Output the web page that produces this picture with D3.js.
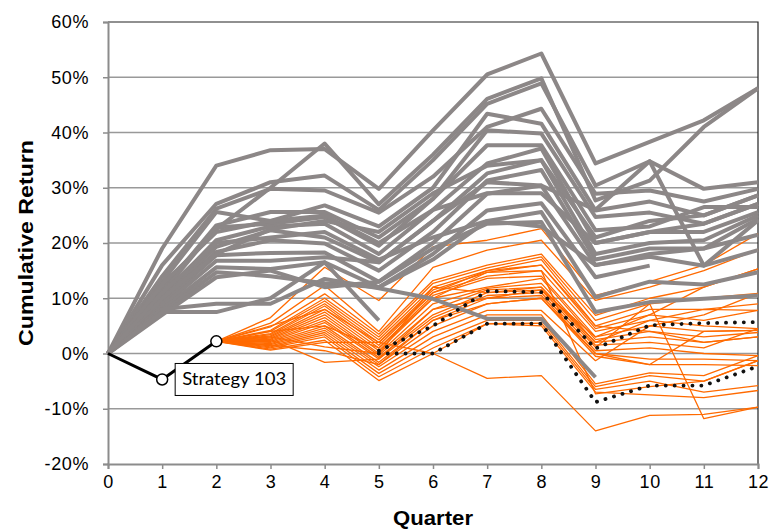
<!DOCTYPE html>
<html>
<head>
<meta charset="utf-8">
<script src="https://cdn.jsdelivr.net/npm/d3@7"></script>
<style>
  body { margin: 0; background: #fff; }
  text { font-family: "Liberation Sans", Arial, sans-serif; }
</style>
</head>
<body>
<div id="chart-area"></div>
<script>
// quarters on the x axis
const quarters = [0, 1, 2, 3, 4, 5, 6, 7, 8, 9, 10, 11, 12]
const yTicks = [-0.2, -0.1, 0, 0.1, 0.2, 0.3, 0.4, 0.5, 0.6]

// gray strategies, values in %, from quarter 0 (some stop early)
const grayRuns = [
    [0, 19, 34, 36.8, 37, 29.8, 40.4, 50.5, 54.3, 34.4, 38.3, 42.2, 48],
    [0, 12, 22.5, 30, 38, 27, 36, 46.1, 49.8, 27.7, 31.3, 41, 48],
    [0, 16, 27.1, 31, 32.2, 26, 35, 45.2, 48.9, 30.4, 34.8, 29.8, 31],
    [0, 14, 26.2, 29.8, 29.5, 25.5, 32, 41, 44.3, 28.9, 29.5, 27.5, 29.8],
    [0, 13, 25.6, 24, 26.8, 23, 30, 43.4, 41.6, 25.9, 27.5, 25, 28.6],
    [0, 11.5, 23.2, 25.6, 25.6, 21, 28, 40.4, 39.8, 24.7, 25.5, 23.5, 27.1],
    [0, 11, 22.8, 23.5, 24.7, 19.5, 28, 37.7, 37.7, 22.3, 23, 26.5, 26.5],
    [0, 10.5, 20.5, 23, 23.5, 18, 26, 34.4, 37.1, 20, 22, 22, 25.6],
    [0, 10, 19.3, 22.3, 21, 16.5, 24, 32.6, 35, 18, 20, 20.5, 25],
    [0, 9.5, 18.4, 20.5, 19.9, 15, 22, 31.3, 33.2, 17, 19, 19, 24.4],
    [0, 9, 17.8, 18.2, 18.3, 13, 20, 28.9, 30.4, 16, 17.5, 15.9, 24.1],
    [0, 8.5, 16.8, 16.8, 17.4, 16.5, 24, 31, 30.4, 26, 34.8, 15.9, 18.7],
    [0, 8, 15.6, 15.3, 16.5, 12, 18, 25.9, 27.2, 13.8, 15.9],
    [0, 7.5, 14.7, 14, 12.7, 12, 17, 24, 25.6, 10.2, 13, 12.5, 14.7],
    [0, 7, 13.8, 15, 12, 13, 19, 23.5, 23.8, 7.5, 9.3, 9.9, 10.5],
    [0, 8, 9, 9, 13.5, 11.8, 9.9, 6.3, 6.3, -4.3],
    [0, 7.5, 7.5, 10, 16.5, 6],
    [0, 12.5, 22, 24, 25, 20, 26, 29, 29, 20, 22, 23.5, 27.1],
    [0, 10, 18, 22.5, 24, 22, 29, 34, 35, 21, 24, 25, 28.6],
    [0, 11, 20, 21, 22, 17, 21, 24, 23, 16, 18, 19, 21.5]
]

// Strategy 103, quarters 0..2
const strat103 = [0, -4.7, 2.2]

// orange continuations of Strategy 103, values in %, quarters 2..12
const orangeRuns = [
    [2.2, 6.5, 15.6, 9.6, 19.3, 20.5, 22.6, 10.5, 13, 16, 21.7],
    [2.2, 5.5, 12.3, 4, 15.6, 18.7, 20.5, 9.6, 12, 15, 18.8],
    [2.2, 4.8, 10.8, 3.5, 13.2, 16, 18, 6.9, 10, 12, 15.3],
    [2.2, 4.2, 10, 3, 12.7, 15.5, 17.5, 6, 9, 10, 10.9],
    [2.2, 4, 9.5, 2.5, 12, 15, 17, 5, 8, 8, 9],
    [2.2, 3.6, 9, 2, 11.5, 14.7, 16, 4.5, 7, 6, 7.8],
    [2.2, 3.4, 8.6, 1.5, 11, 14, 15, 4, 6, 5, 4.5],
    [2.2, 3.2, 8, 1, 10.5, 13.6, 14, 3, 5, 4, 4.2],
    [2.2, 3, 7.5, 0.5, 10, 12, 13.6, 2.5, 4, 3, 3.8],
    [2.2, 2.8, 7, 0, 9, 11.8, 12.7, 2, 3, 2, 3],
    [2.2, 2.6, 6.5, -0.3, 8, 11.5, 12, 1.5, 2, 1, 4.5],
    [2.2, 2.4, 6, -0.7, 7, 11, 11.5, 1.1, 9, -11.8, -9.7],
    [2.2, 2.2, 5.6, -1, 6.5, 10.5, 11, 0.5, 1, 0, -0.4],
    [2.2, 2, 5, -1.6, 6, 10, 10.5, 0, -1, -1, -1.3],
    [2.2, 1.8, 4.6, -2, 5, 9, 10, -0.5, -2, -2, -2.2],
    [2.2, 1.6, 4.2, -2.4, 4, 7.8, 7.8, -1.3, 5, 7, 10.9],
    [2.2, 1.4, 3.8, -3, 3, 7, 7, -5.5, -3.5, -4, -0.4],
    [2.2, 1.2, 3.4, -3.6, 2, 6, 6, -6, -4, -5, -1.3],
    [2.2, 1, 3, -4.2, 1, 5.4, 5.5, -6.5, -5, -7, -5.8],
    [2.2, 0.8, 2.4, -4.9, 0, 5.4, 5, -7, -7.5, -8, -6.7],
    [2.2, 0.6, 2, 2, 0, -4.5, -4, -14, -11.2, -11, -9.7],
    [2.2, 3, 1.2, 0, 12, 11, 12, 2, 6, 8, 7.8],
    [2.2, 2.5, -1.6, -1, 8, 10, 11.5, 3, 7, 12, 15.3],
    [2.2, 4, 5, 1, 10, 14.7, 15, -7.3, -6, -5, -1.3],
    [2.2, 5, 8, 2, 11, 15, 16, 5, 4, 2, 3],
    [2.2, 1.5, 0.5, -2, 6, 9, 10, 0, -2, 4, 4.2]
]

// the two dotted paths, quarters 5..12
const dottedRuns = [
    [0.5, 5, 11.3, 11.1, 0.9, 5.1, 5.5, 5.7],
    [0, 0, 5.4, 5.4, -8.8, -5.8, -5.8, -2.3]
]

const MARGIN = { LEFT: 108, RIGHT: 12, TOP: 22, BOTTOM: 66 }
const WIDTH = 770 - MARGIN.LEFT - MARGIN.RIGHT
const HEIGHT = 530 - MARGIN.TOP - MARGIN.BOTTOM

const svg = d3.select("#chart-area").append("svg")
    .attr("width", 770)
    .attr("height", 530)

const g = svg.append("g")
    .attr("transform", `translate(${MARGIN.LEFT}, ${MARGIN.TOP})`)

const x = d3.scaleLinear().domain([0, 12]).range([0, WIDTH])
const y = d3.scaleLinear().domain([-0.2, 0.6]).range([HEIGHT, 0])

// gridlines
g.append("g")
    .selectAll("line")
    .data(yTicks.filter(d => d > -0.2 && d < 0.6))
    .enter().append("line")
        .attr("x1", 0)
        .attr("x2", WIDTH)
        .attr("y1", d => y(d))
        .attr("y2", d => y(d))
        .attr("stroke", "#999")
        .attr("stroke-width", 1.5)

// top and right frame
g.append("path")
    .attr("d", `M0,${y(0.6)}H${WIDTH}V${HEIGHT}`)
    .attr("fill", "none")
    .attr("stroke", "#222")
    .attr("stroke-width", 1.2)

// axes
const pct = d3.format(".0%")
const yAxisCall = d3.axisLeft(y)
    .tickValues(yTicks)
    .tickSize(5)
    .tickPadding(14)
    .tickFormat(d => pct(d).replace("\u2212", "-"))
const xAxisCall = d3.axisBottom(x)
    .tickValues(quarters)
    .tickSize(5)
    .tickPadding(6)
    .tickFormat(d3.format("d"))

const yAxis = g.append("g").attr("class", "y axis").call(yAxisCall)
const xAxis = g.append("g").attr("class", "x axis")
    .attr("transform", `translate(0, ${HEIGHT})`)
    .call(xAxisCall)

svg.selectAll(".axis .domain")
    .attr("stroke", "#8c8c8c")
    .attr("stroke-width", 2)
svg.selectAll(".axis .tick line")
    .attr("stroke", "#8c8c8c")
    .attr("stroke-width", 1.5)
svg.selectAll(".axis text")
    .style("font-family", "'Liberation Sans', Arial, sans-serif")
    .style("font-size", "18px")
    .style("letter-spacing", "0.6px")
    .attr("fill", "#000")

// axis titles
svg.append("text")
    .attr("transform", `translate(33, ${MARGIN.TOP + HEIGHT / 2}) rotate(-90)`)
    .attr("text-anchor", "middle")
    .attr("textLength", 206)
    .attr("lengthAdjust", "spacingAndGlyphs")
    .style("font-size", "20px")
    .style("font-weight", "bold")
    .text("Cumulative Return")

svg.append("text")
    .attr("x", MARGIN.LEFT + WIDTH / 2)
    .attr("y", 525)
    .attr("text-anchor", "middle")
    .attr("textLength", 80)
    .attr("lengthAdjust", "spacingAndGlyphs")
    .style("font-size", "20px")
    .style("font-weight", "bold")
    .text("Quarter")

// line generator, values are in %
const line = d3.line()
    .x(d => x(d.q))
    .y(d => y(d.v / 100))

const toPoints = (arr, start) => arr.map((v, i) => ({ q: start + i, v: v }))

// orange lines
g.append("g")
    .selectAll("path")
    .data(orangeRuns)
    .enter().append("path")
        .attr("d", d => line(toPoints(d, 2)))
        .attr("fill", "none")
        .attr("stroke", "#ff6a00")
        .attr("stroke-width", 1.3)
        .attr("stroke-linejoin", "round")

// gray lines
g.append("g")
    .selectAll("path")
    .data(grayRuns)
    .enter().append("path")
        .attr("d", d => line(toPoints(d, 0)))
        .attr("fill", "none")
        .attr("stroke", "#8c8787")
        .attr("stroke-width", 4)
        .attr("stroke-linejoin", "round")

// dotted lines
g.append("g")
    .selectAll("path")
    .data(dottedRuns)
    .enter().append("path")
        .attr("d", d => line(toPoints(d, 5)))
        .attr("fill", "none")
        .attr("stroke", "#111")
        .attr("stroke-width", 3.8)
        .attr("stroke-linecap", "round")
        .attr("stroke-dasharray", "0.1,8.8")

// Strategy 103
const stratPts = toPoints(strat103, 0)
g.append("path")
    .attr("d", line(stratPts))
    .attr("fill", "none")
    .attr("stroke", "#000")
    .attr("stroke-width", 3)

g.selectAll(".strat-dot")
    .data(stratPts.slice(1))
    .enter().append("circle")
        .attr("class", "strat-dot")
        .attr("cx", d => x(d.q))
        .attr("cy", d => y(d.v / 100))
        .attr("r", 5.5)
        .attr("fill", "#fff")
        .attr("stroke", "#000")
        .attr("stroke-width", 1.5)

// label
const lab = g.append("g")
    .attr("transform", `translate(${x(1) + 13}, ${y(strat103[1] / 100) - 16})`)
lab.append("rect")
    .attr("width", 118)
    .attr("height", 32)
    .attr("fill", "#fff")
    .attr("stroke", "#000")
    .attr("stroke-width", 1)
lab.append("text")
    .attr("x", 7)
    .attr("y", 22)
    .attr("textLength", 104)
    .attr("lengthAdjust", "spacingAndGlyphs")
    .style("font-family", "Lato, 'Open Sans', sans-serif")
    .style("font-size", "18px")
    .text("Strategy 103")
</script>
</body>
</html>
